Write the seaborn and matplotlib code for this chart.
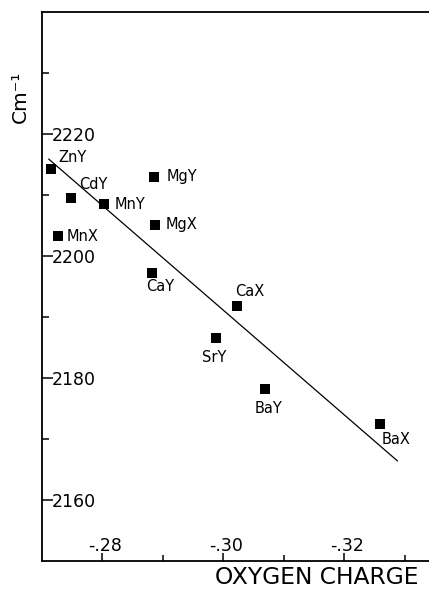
import matplotlib
matplotlib.use("Agg")
import matplotlib.pyplot as plt
import matplotlib.transforms as mtransforms
import seaborn as sns
import pandas as pd
from matplotlib.ticker import FixedLocator, FixedFormatter

# ---- data ----
zeolites = ["ZnY", "CdY", "MnY", "MnX", "MgY", "MgX", "CaY", "CaX", "SrY", "BaY", "BaX"]
oxygen_charge = [-0.2716, -0.2749, -0.2803, -0.2727, -0.2886, -0.2888, -0.2883, -0.3023, -0.2988, -0.3069, -0.3259]
wavenumber = [2214.3, 2209.5, 2208.5, 2203.3, 2213.0, 2205.1, 2197.2, 2191.8, 2186.6, 2178.2, 2172.5]

fit_x = [-0.2712, -0.3288]
fit_y = [2215.9, 2166.4]

x_major = [-0.28, -0.30, -0.32]
x_major_labels = ["-.28", "-.30", "-.32"]
x_minor = [-0.29, -0.31, -0.33]
y_major = [2160, 2180, 2200, 2220]
y_major_labels = ["2160", "2180", "2200", "2220"]
y_minor = [2170, 2190, 2210, 2230]

# ---- label placement (offset points, alignment) ----
label_style = {
    "ZnY": ((5, 8), "left"),
    "CdY": ((5.8, 9.4), "left"),
    "MnY": ((8, 0), "left"),
    "MnX": ((6.5, -0.5), "left"),
    "MgY": ((9.4, 0), "left"),
    "MgX": ((7.2, 0), "left"),
    "CaY": ((5.8, -9.4), "center"),
    "CaX": ((-1.4, 10.4), "left"),
    "SrY": ((-1, -14), "center"),
    "BaY": ((2.9, -13.7), "center"),
    "BaX": ((1.4, -11.5), "left"),
}

sns.set_style("ticks")
plt.rcParams["font.family"] = ["DejaVu Sans"]
for key in ["text.color", "axes.labelcolor", "xtick.color", "ytick.color", "axes.edgecolor"]:
    plt.rcParams[key] = "black"

df = pd.DataFrame({"zeolite": zeolites, "charge": oxygen_charge, "nu": wavenumber})
fit_df = pd.DataFrame({"charge": fit_x, "nu": fit_y})

fig = plt.figure(figsize=(4.29, 5.91), dpi=100)
ax = fig.add_axes([42 / 429, 1 - 561 / 591, 1 - 42 / 429, (561 - 12) / 591])

sns.lineplot(data=fit_df, x="charge", y="nu", ax=ax, color="black", lw=0.9, sort=False)
sns.scatterplot(data=df, x="charge", y="nu", ax=ax, marker="s", s=55,
                color="black", edgecolor="black", linewidth=0, zorder=3)

for name, xv, yv in zip(zeolites, oxygen_charge, wavenumber):
    off, ha = label_style[name]
    ax.annotate(name, (xv, yv), xytext=off, textcoords="offset points",
                ha=ha, va="center", fontsize=10.5, color="black")

ax.set_xlim(-0.2701, -0.334)
ax.set_ylim(2150, 2240)

ax.xaxis.set_major_locator(FixedLocator(x_major))
ax.xaxis.set_major_formatter(FixedFormatter(x_major_labels))
ax.xaxis.set_minor_locator(FixedLocator(x_minor))
ax.yaxis.set_major_locator(FixedLocator(y_major))
ax.yaxis.set_major_formatter(FixedFormatter(y_major_labels))
ax.yaxis.set_minor_locator(FixedLocator(y_minor))

ax.tick_params(axis="x", which="major", direction="in", length=6, width=1.1,
               pad=-17.3, labelsize=12.5, colors="black")
ax.tick_params(axis="x", which="minor", direction="in", length=4, width=1.1, colors="black")
ax.tick_params(axis="y", which="major", direction="in", length=8, width=1.1,
               pad=-7.2, labelsize=12.5, colors="black")
ax.tick_params(axis="y", which="minor", direction="in", length=5, width=1.1, colors="black")
for lab in ax.get_yticklabels():
    lab.set_horizontalalignment("left")
shift = mtransforms.ScaledTranslation(3 / 100, 0, fig.dpi_scale_trans)
for lab in ax.get_xticklabels():
    lab.set_transform(lab.get_transform() + shift)

ax.spines["right"].set_visible(False)
for side in ["left", "top", "bottom"]:
    ax.spines[side].set_linewidth(1.3)
    ax.spines[side].set_color("black")

ax.set_xlabel("OXYGEN CHARGE", fontsize=16.8, x=0.711, labelpad=0.3, color="black")
ax.set_ylabel("Cm\u207b\u00b9", fontsize=14.5, y=0.845, labelpad=5, color="black")

fig.savefig("out.png", dpi=100)
